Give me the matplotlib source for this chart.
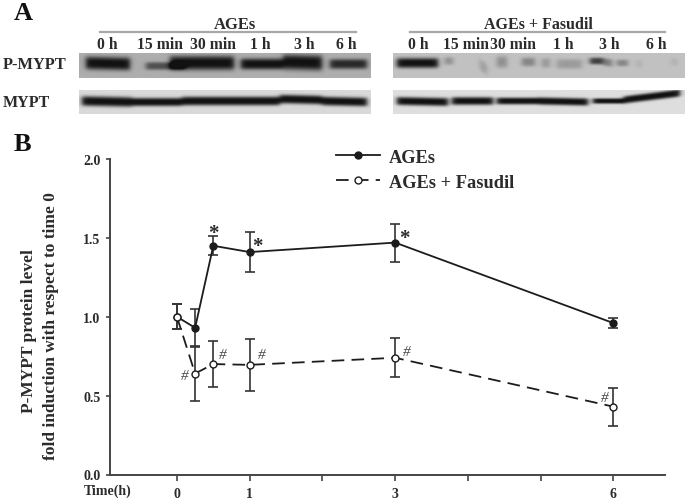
import numpy as np
import matplotlib
matplotlib.use('Agg')
import matplotlib.pyplot as plt

plt.rcParams['font.family'] = ['Liberation Serif', 'DejaVu Serif']
plt.rcParams['font.weight'] = 'bold'

W, H = 689, 502
INK = '#2b2b2b'

# panel B data
times = [0, 0.25, 0.5, 1, 3, 6]
ages = [1.0, 0.93, 1.45, 1.41, 1.47, 0.96]
ages_err = [0.08, 0.12, 0.06, 0.125, 0.12, 0.03]
fasudil = [1.0, 0.64, 0.70, 0.695, 0.74, 0.43]
fasudil_err = [0.08, 0.175, 0.145, 0.165, 0.125, 0.12]
star_marks = [(0.5, 1.53), (1.11, 1.45), (3.13, 1.50)]
hash_marks = [(0.11, 0.63), (0.63, 0.76), (1.16, 0.76), (3.16, 0.78), (5.88, 0.49)]
x_ticks = [0, 1, 2, 3, 4, 5, 6]
x_tick_labels = ['0', '1', '', '3', '', '', '6']
y_ticks = [0.0, 0.5, 1.0, 1.5, 2.0]

# panel A lanes
lane_labels = ['0 h', '15 min', '30 min', '1 h', '3 h', '6 h']
lane_x_left = [107, 160, 213, 260, 304, 346]
lane_x_right = [418, 466, 513, 563, 609, 656]

# bands: x start, x end, darkness, y at start, y at end, thickness
p_left_bands = [(86, 130, 1.0, 64, 65, 6.5), (146, 185, 0.6, 67, 67, 4.0),
                (170, 234, 1.0, 64, 64, 7.0), (241, 283, 1.0, 65, 65, 5.5),
                (283, 322, 1.0, 63, 64, 7.5), (330, 367, 0.85, 65, 65, 5.0)]
p_right_bands = [(397, 438, 1.0, 64, 64, 5.0), (445, 453, 0.3, 62, 62, 4.0),
                 (480, 487, 0.22, 66, 70, 6.0), (497, 507, 0.3, 63, 63, 6.0),
                 (522, 535, 0.35, 63, 63, 4.5), (542, 550, 0.25, 64, 64, 5.0),
                 (557, 582, 0.22, 65, 65, 5.0), (590, 603, 0.75, 62, 62, 3.5),
                 (603, 612, 0.4, 63, 64, 4.0), (617, 628, 0.35, 64, 64, 3.5),
                 (637, 642, 0.12, 65, 65, 4.0), (672, 677, 0.12, 63, 63, 4.0)]
m_left_bands = [(82, 132, 1.0, 102, 103, 5.0), (132, 182, 1.0, 103, 103, 4.2),
                (182, 240, 1.0, 102, 102, 4.5), (240, 280, 1.0, 102, 102, 4.5),
                (280, 322, 1.0, 100, 101, 4.5), (322, 367, 1.0, 102, 103, 4.5)]
m_right_bands = [(397, 448, 1.0, 102, 103, 4.2), (452, 493, 1.0, 102, 102, 4.0),
                 (497, 538, 1.0, 102, 102, 3.5), (538, 588, 1.0, 102, 103, 3.8),
                 (593, 623, 1.0, 102, 102, 2.8), (623, 680, 1.0, 101, 94, 3.8)]


def blot(ax, x0, x1, y0, y1, bands, background):
    # soft grey strip with dark bands, in pixel coordinates
    xs = np.arange(x0, x1) + 0.5
    ys = np.arange(y0, y1) + 0.5
    xx, yy = np.meshgrid(xs, ys)
    dark = np.zeros_like(xx)
    for bx0, bx1, d, by0, by1, th in bands:
        along = 0.5 * (np.tanh((xx - bx0) / 3) - np.tanh((xx - bx1) / 3))
        yc = by0 + (by1 - by0) * (xx - bx0) / (bx1 - bx0)
        dark += d * along * np.exp(-(np.abs(yy - yc) / th) ** 3)
    img = background - (background - 0.07) * np.clip(dark, 0, 1)
    ax.imshow(img, cmap='gray', vmin=0, vmax=1, extent=(x0, x1, y1, y0),
              interpolation='bilinear', aspect='auto')


fig = plt.figure(figsize=(W / 100, H / 100), dpi=100)

# whole figure overlay in pixels for panel A
pix = fig.add_axes([0, 0, 1, 1])
pix.axis('off')

blot(pix, 79, 371, 54, 79, p_left_bands, 0.68)
blot(pix, 393, 685, 54, 79, p_right_bands, 0.76)
blot(pix, 79, 371, 91, 115, m_left_bands, 0.85)
blot(pix, 393, 685, 91, 115, m_right_bands, 0.87)
pix.set_xlim(0, W)
pix.set_ylim(H, 0)

pix.plot([100, 356], [33, 33], color='#a8a8a8', lw=1.6)
pix.plot([410, 665], [33, 33], color='#a8a8a8', lw=1.6)
pix.text(235, 25, 'AGEs', ha='center', va='center', fontsize=12, color=INK)
pix.text(538, 25, 'AGEs + Fasudil', ha='center', va='center', fontsize=11.5, color=INK)
for lab, xl, xr in zip(lane_labels, lane_x_left, lane_x_right):
    pix.text(xl, 45, lab, ha='center', va='center', fontsize=11.3, color=INK)
    pix.text(xr, 45, lab, ha='center', va='center', fontsize=11.3, color=INK)
pix.text(3, 65, 'P-MYPT', ha='left', va='center', fontsize=11.8, color=INK)
pix.text(3, 103, 'MYPT', ha='left', va='center', fontsize=11.5, color=INK)
pix.text(14, 14, 'A', ha='left', va='center', fontsize=19, color='#111111')
pix.text(14, 145, 'B', ha='left', va='center', fontsize=19, color='#111111')
pix.text(108, 491, 'Time(h)', ha='center', va='center', fontsize=10, color=INK)
pix.text(29, 331, 'P-MYPT protein level', rotation=90, ha='center', va='center',
         fontsize=12.5, color=INK)
pix.text(51, 326, 'fold induction with respect to time 0', rotation=90, ha='center',
         va='center', fontsize=12.5, color=INK)

# panel B
ax = fig.add_axes([110 / W, (H - 475.5) / H, (665 - 110) / W, (475.5 - 160) / H])
ax.patch.set_alpha(0)
ax.set_xlim(-0.92, 6.71)
ax.set_ylim(0, 2)
ax.spines['top'].set_visible(False)
ax.spines['right'].set_visible(False)
ax.spines['left'].set_color('#444444')
ax.spines['bottom'].set_color('#444444')
ax.spines['left'].set_linewidth(1.4)
ax.spines['bottom'].set_linewidth(1.4)
ax.set_xticks(x_ticks, x_tick_labels)
ax.set_yticks(y_ticks, [f'{v:.1f}' for v in y_ticks])
ax.tick_params(axis='x', length=4, width=1.2, color='#444444', labelsize=10, labelcolor=INK, pad=5)
ax.tick_params(axis='y', length=3, width=1.2, color='#444444', labelsize=10, labelcolor=INK, pad=4)

ax.errorbar(times, fasudil, yerr=fasudil_err, fmt='none', ecolor='#333333', elinewidth=1.2,
            capsize=3.6, capthick=1.2, zorder=2)
ax.errorbar(times, ages, yerr=ages_err, fmt='none', ecolor='#333333', elinewidth=1.2,
            capsize=3.6, capthick=1.2, zorder=2)
ax.plot(times, ages, '-o', color='#1c1c1c', lw=1.3, ms=5, zorder=4, label='AGEs')
ax.plot(times, fasudil, '--o', color='#1c1c1c', lw=1.3, ms=5, mfc='white', mew=1.0,
        dashes=(7, 4), zorder=5, label='AGEs + Fasudil')

for x, y in star_marks:
    ax.text(x, y, '*', ha='center', va='center', fontsize=15, color=INK)
for x, y in hash_marks:
    ax.text(x, y, '#', ha='center', va='center', fontsize=11, style='italic',
            weight='normal', color='#444444', zorder=6)

ax.legend(loc='upper left', bbox_to_anchor=(0.407, 1.032), frameon=False, fontsize=13.2,
          handlelength=2.4, handletextpad=0.49, labelspacing=0.42, labelcolor=INK,
          borderpad=0, borderaxespad=0)

fig.savefig('out.png', dpi=100)
